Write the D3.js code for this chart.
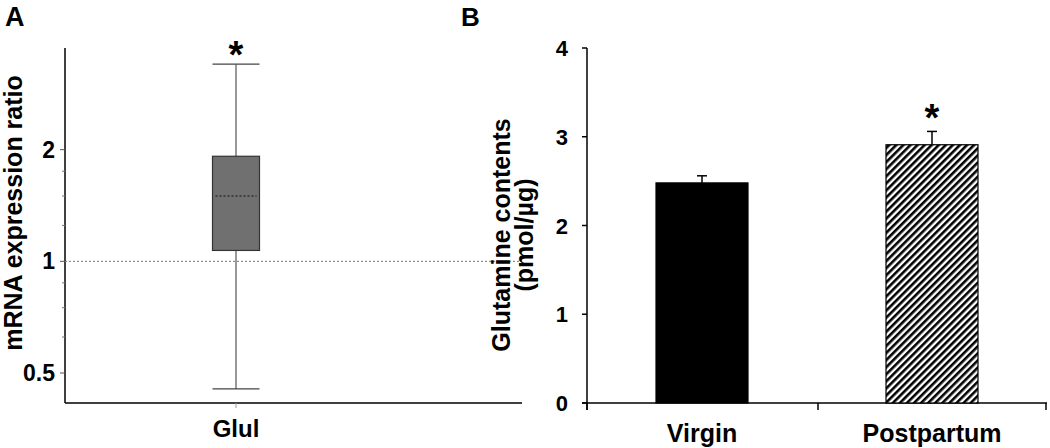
<!DOCTYPE html>
<html>
<head>
<meta charset="utf-8">
<style>
body { margin:0; background:#fff; }
text { font-family:"Liberation Sans", Arial, sans-serif; }
</style>
<script src="https://cdn.jsdelivr.net/npm/d3@7/dist/d3.min.js"></script>
</head>
<body>
<div id="chart"></div>
<script>
// Panel A: box plot (log scale)
var boxCat = ["Glul"];
var boxStats = [{ whiskLo: 0.453, q1: 1.07, median: 1.50, q3: 1.92, whiskHi: 3.40 }];
var aMajorTicks = [0.5, 1, 2];
var aMinorTicks = [0.625, 0.75, 0.875, 1.25, 1.5, 1.75];

// Panel B: bar chart
var groups = ["Virgin", "Postpartum"];
var means = [2.48, 2.91];
var errs = [0.08, 0.15];
var bTicks = [0, 1, 2, 3, 4];

var svg = d3.select("#chart").append("svg")
    .attr("width", 1050)
    .attr("height", 448);

var defs = svg.append("defs");
var pat = defs.append("pattern")
    .attr("id", "hatch")
    .attr("patternUnits", "userSpaceOnUse")
    .attr("width", 5).attr("height", 5)
    .attr("patternTransform", "rotate(45)");
pat.append("rect").attr("width", 5).attr("height", 5).attr("fill", "#fff");
pat.append("rect").attr("width", 2.6).attr("height", 5).attr("fill", "#000");

// ---------- Panel A ----------
var yA = d3.scaleLog().domain([0.415, 3.76]).range([403, 48]);
var xA = d3.scaleBand().domain(boxCat).range([65, 407]);

svg.append("text").attr("x", 5).attr("y", 26)
    .attr("font-size", 27).attr("font-weight", "bold").text("A");

var gA = svg.append("g");
gA.append("line").attr("x1", 65).attr("x2", 65).attr("y1", 48).attr("y2", 403)
    .attr("stroke", "#000").attr("stroke-width", 1.5);
gA.append("line").attr("x1", 65).attr("x2", 522).attr("y1", 403).attr("y2", 403)
    .attr("stroke", "#000").attr("stroke-width", 1.5);

gA.selectAll(".maj").data(aMajorTicks).enter().append("line")
    .attr("x1", 60).attr("x2", 65)
    .attr("y1", function(d) { return yA(d); }).attr("y2", function(d) { return yA(d); })
    .attr("stroke", "#555");
gA.selectAll(".mnr").data(aMinorTicks).enter().append("line")
    .attr("x1", 62).attr("x2", 65)
    .attr("y1", function(d) { return yA(d); }).attr("y2", function(d) { return yA(d); })
    .attr("stroke", "#777");
gA.selectAll(".lbl").data(aMajorTicks).enter().append("text")
    .attr("x", 55).attr("y", function(d) { return yA(d) + 8; })
    .attr("text-anchor", "end").attr("font-size", 23).attr("font-weight", "bold")
    .text(function(d) { return d; });

gA.append("text")
    .attr("transform", "translate(22,213) rotate(-90)")
    .attr("text-anchor", "middle").attr("font-size", 25).attr("font-weight", "bold")
    .text("mRNA expression ratio");

// reference line at 1
gA.append("line").attr("x1", 65).attr("x2", 522)
    .attr("y1", yA(1)).attr("y2", yA(1))
    .attr("stroke", "#777").attr("stroke-dasharray", "2,2");

boxCat.forEach(function(c, i) {
    var s = boxStats[i];
    var cx = xA(c) + xA.bandwidth() / 2;
    var hw = 23.5;
    gA.append("line").attr("x1", cx).attr("x2", cx)
        .attr("y1", yA(s.whiskHi)).attr("y2", yA(s.whiskLo))
        .attr("stroke", "#555").attr("stroke-width", 1.2);
    [s.whiskHi, s.whiskLo].forEach(function(v) {
        gA.append("line").attr("x1", cx - hw).attr("x2", cx + hw)
            .attr("y1", yA(v)).attr("y2", yA(v))
            .attr("stroke", "#444").attr("stroke-width", 1.2);
    });
    gA.append("rect").attr("x", cx - hw).attr("width", hw * 2)
        .attr("y", yA(s.q3)).attr("height", yA(s.q1) - yA(s.q3))
        .attr("fill", "#707070").attr("stroke", "#333").attr("stroke-width", 1.2);
    gA.append("line").attr("x1", cx - hw + 3).attr("x2", cx + hw - 3)
        .attr("y1", yA(s.median)).attr("y2", yA(s.median))
        .attr("stroke", "#111").attr("stroke-dasharray", "2,2");
    gA.append("line").attr("x1", cx).attr("x2", cx).attr("y1", 403).attr("y2", 408)
        .attr("stroke", "#999");
    gA.append("text").attr("x", cx).attr("y", 437)
        .attr("text-anchor", "middle").attr("font-size", 24).attr("font-weight", "bold")
        .text(c);
    gA.append("text").attr("x", cx).attr("y", 68)
        .attr("text-anchor", "middle").attr("font-size", 38).attr("font-weight", "bold")
        .text("*");
});

// ---------- Panel B ----------
var yB = d3.scaleLinear().domain([0, 4]).range([403, 48]);
var xB = d3.scaleBand().domain(groups).range([587, 1047]).paddingInner(0.6).paddingOuter(0.3);

svg.append("text").attr("x", 461).attr("y", 26)
    .attr("font-size", 26).attr("font-weight", "bold").text("B");

var gB = svg.append("g");
gB.append("line").attr("x1", 587).attr("x2", 587).attr("y1", 48).attr("y2", 410)
    .attr("stroke", "#000").attr("stroke-width", 1.5);
gB.append("line").attr("x1", 582).attr("x2", 1047).attr("y1", 403).attr("y2", 403)
    .attr("stroke", "#000").attr("stroke-width", 1.5);

gB.selectAll(".tk").data(bTicks).enter().append("line")
    .attr("x1", 582).attr("x2", 587)
    .attr("y1", function(d) { return yB(d); }).attr("y2", function(d) { return yB(d); })
    .attr("stroke", "#000").attr("stroke-width", 1.5);
gB.selectAll(".tl").data(bTicks).enter().append("text")
    .attr("x", 568).attr("y", function(d) { return yB(d) + 8; })
    .attr("text-anchor", "end").attr("font-size", 22).attr("font-weight", "bold")
    .text(function(d) { return d; });

// category separators on x axis
[587, 818, 1046].forEach(function(x) {
    gB.append("line").attr("x1", x).attr("x2", x).attr("y1", 403).attr("y2", 410)
        .attr("stroke", "#000").attr("stroke-width", 1.5);
});

var yl = gB.append("text")
    .attr("transform", "translate(510,235) rotate(-90)")
    .attr("text-anchor", "middle").attr("font-size", 25).attr("font-weight", "bold");
yl.append("tspan").attr("x", 0).attr("dy", 0).text("Glutamine contents");
yl.append("tspan").attr("x", 0).attr("dy", 23).text("(pmol/\u00b5g)");

groups.forEach(function(g, i) {
    var x0 = xB(g), w = xB.bandwidth(), cx = x0 + w / 2;
    gB.append("line").attr("x1", cx).attr("x2", cx)
        .attr("y1", yB(means[i])).attr("y2", yB(means[i] + errs[i]))
        .attr("stroke", "#000").attr("stroke-width", 1.5);
    gB.append("line").attr("x1", cx - 5).attr("x2", cx + 5)
        .attr("y1", yB(means[i] + errs[i])).attr("y2", yB(means[i] + errs[i]))
        .attr("stroke", "#000").attr("stroke-width", 1.5);
    gB.append("rect").attr("x", x0).attr("width", w)
        .attr("y", yB(means[i])).attr("height", yB(0) - yB(means[i]))
        .attr("fill", i === 0 ? "#000" : "url(#hatch)")
        .attr("stroke", "#000").attr("stroke-width", 1.2);
    gB.append("text").attr("x", cx).attr("y", 442)
        .attr("text-anchor", "middle").attr("font-size", 25).attr("font-weight", "bold")
        .text(g);
});
gB.append("text").attr("x", xB("Postpartum") + xB.bandwidth() / 2).attr("y", 131)
    .attr("text-anchor", "middle").attr("font-size", 38).attr("font-weight", "bold")
    .text("*");
</script>
</body>
</html>
